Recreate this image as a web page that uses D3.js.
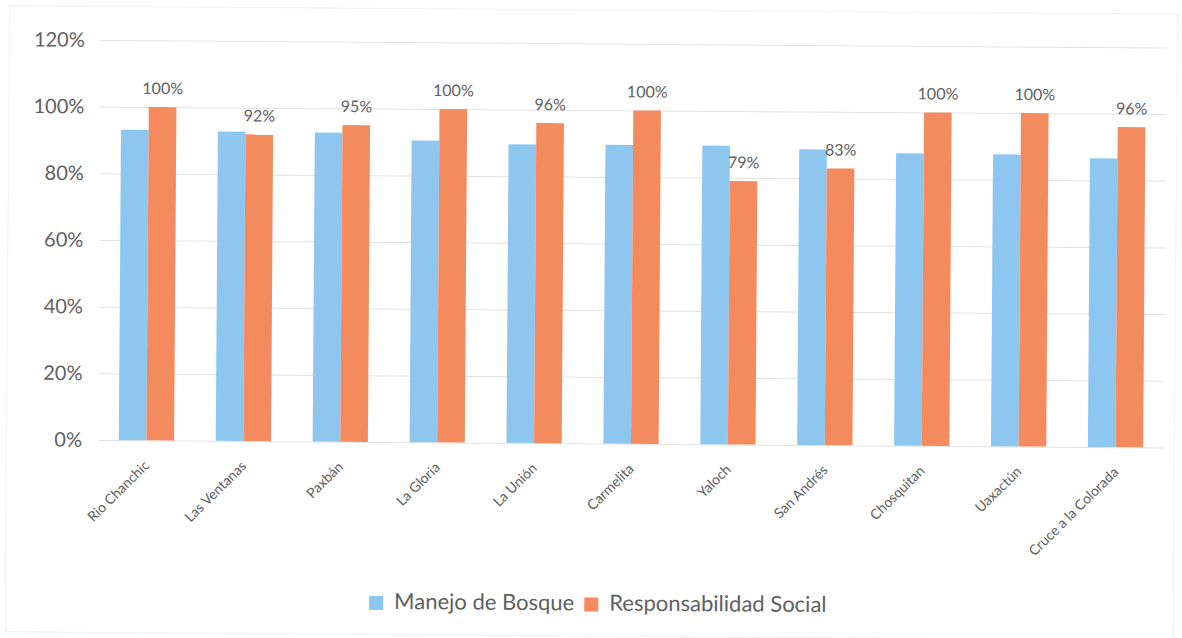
<!DOCTYPE html>
<html>
<head>
<meta charset="utf-8">
<script src="https://cdn.jsdelivr.net/npm/d3@7"></script>
<style>
  html, body { margin: 0; padding: 0; background: #ffffff; }
  svg { display: block; font-family: Lato, "Open Sans", "Liberation Sans", sans-serif; }
</style>
</head>
<body>
<svg id="chart" width="1182" height="638"></svg>
<script>
// Communities evaluated
const categories = ["Rio Chanchic", "Las Ventanas", "Paxbán", "La Gloria", "La Unión", "Carmelita",
                    "Yaloch", "San Andrés", "Chosquitan", "Uaxactún", "Cruce a la Colorada"];
// Score per community (fraction of 1)
const manejoBosque = [0.931, 0.928, 0.927, 0.905, 0.896, 0.896, 0.896, 0.887, 0.877, 0.876, 0.866];
const responsabilidadSocial = [1.00, 0.92, 0.95, 1.00, 0.96, 1.00, 0.79, 0.83, 1.00, 1.00, 0.96];
const seriesNames = ["Manejo de Bosque", "Responsabilidad Social"];
const yTicks = [0, 0.2, 0.4, 0.6, 0.8, 1.0, 1.2];

const colors = ["#8dc6ee", "#f48b5f"];
const textColor = "#606060";

const svg = d3.select("#chart");
const W = 1182, H = 638;
const plot = { left: 98, right: 1164, top: 40, bottom: 440 };

// whole sheet sits slightly tilted
const root = svg.append("g").attr("transform", `rotate(0.4, ${plot.left}, ${plot.bottom})`);

// chart frame
root.append("rect")
  .attr("x", 6.5).attr("y", 6.5).attr("width", W - 14).attr("height", H - 12)
  .attr("fill", "none").attr("stroke", "#f0f0f0").attr("stroke-width", 1);

const x = d3.scaleBand()
  .domain(categories)
  .range([plot.left, plot.right])
  .paddingInner(0.43)
  .paddingOuter(0.215);

const xSub = d3.scaleBand()
  .domain(seriesNames)
  .range([0, x.bandwidth()]);

const y = d3.scaleLinear().domain([0, 1.2]).range([plot.bottom, plot.top]);

// gridlines
root.append("g")
  .selectAll("line")
  .data(yTicks)
  .join("line")
  .attr("x1", plot.left).attr("x2", plot.right)
  .attr("y1", d => y(d) + 0.5).attr("y2", d => y(d) + 0.5)
  .attr("stroke", "#e2e2e2").attr("stroke-width", 1);

// y axis labels
const yAxis = d3.axisLeft(y).tickValues(yTicks).tickFormat(d3.format(".0%")).tickSize(0).tickPadding(16);
const yG = root.append("g").attr("transform", `translate(${plot.left},0)`).call(yAxis);
yG.select(".domain").remove();
yG.selectAll("text")
  .attr("fill", textColor)
  .style("font-size", "20px")
  .style("font-family", "Lato, 'Open Sans', sans-serif");

// bars
const rows = categories.map((c, i) => ({
  cat: c,
  vals: [manejoBosque[i], responsabilidadSocial[i]]
}));

const groups = root.append("g")
  .selectAll("g")
  .data(rows)
  .join("g")
  .attr("transform", d => `translate(${x(d.cat)},0)`);

groups.selectAll("rect")
  .data(d => d.vals.map((v, k) => ({ v, k })))
  .join("rect")
  .attr("x", d => xSub(seriesNames[d.k]))
  .attr("width", xSub.bandwidth())
  .attr("y", d => y(d.v))
  .attr("height", d => y(0) - y(d.v))
  .attr("fill", d => colors[d.k]);

// value labels over Responsabilidad Social
groups.append("text")
  .attr("x", xSub(seriesNames[1]) + xSub.bandwidth() / 2)
  .attr("y", d => y(d.vals[1]) - 13)
  .attr("text-anchor", "middle")
  .attr("fill", textColor)
  .style("font-size", "16px")
  .text(d => d3.format(".0%")(d.vals[1]));

// category labels
root.append("g")
  .selectAll("text")
  .data(categories)
  .join("text")
  .attr("transform", d => `translate(${x(d) + x.bandwidth() / 2 + 4}, ${plot.bottom + 26}) rotate(-45)`)
  .attr("text-anchor", "end")
  .attr("fill", textColor)
  .style("font-size", "14px")
  .text(d => d);

// legend
const legend = root.append("g");
const items = legend.selectAll("g")
  .data(seriesNames)
  .join("g");
items.append("rect")
  .attr("width", 14).attr("height", 14)
  .attr("fill", (d, i) => colors[i]);
items.append("text")
  .attr("x", 25)
  .attr("y", 13)
  .attr("fill", textColor)
  .style("font-size", "22px")
  .text(d => d);

let cursor = 0;
const gap = 10;
items.each(function () {
  const g = d3.select(this);
  g.attr("transform", `translate(${cursor},0)`);
  const tw = g.select("text").node().getComputedTextLength();
  cursor += 25 + tw + gap;
});
const total = cursor - gap;
legend.attr("transform", `translate(${599 - total / 2}, 594)`);
</script>
</body>
</html>
